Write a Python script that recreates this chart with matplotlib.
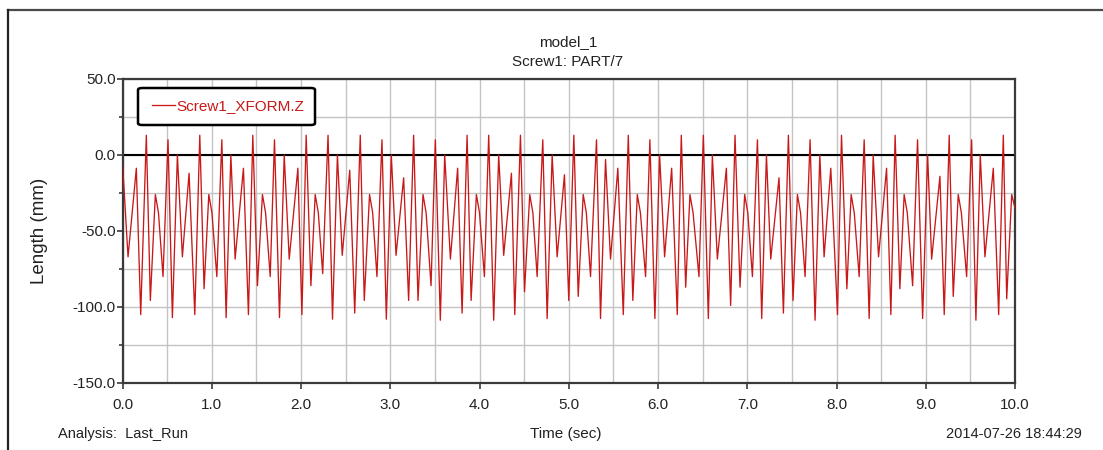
import matplotlib
matplotlib.use("Agg")
import matplotlib.pyplot as plt
from matplotlib.ticker import MultipleLocator
from matplotlib.lines import Line2D
from matplotlib.patches import FancyBboxPatch

plt.rcParams['font.family'] = ['Liberation Sans', 'DejaVu Sans']

# turning points of the curve (time in s, length in mm)
time_s = [
    0.000, 0.062, 0.155, 0.204, 0.267, 0.312, 0.368, 0.403, 0.454, 0.510,
    0.559, 0.615, 0.671, 0.746, 0.810, 0.866, 0.914, 0.967, 1.002, 1.057,
    1.113, 1.161, 1.214, 1.262, 1.355, 1.411, 1.460, 1.512, 1.568, 1.603,
    1.655, 1.703, 1.759, 1.812, 1.868, 1.965, 2.010, 2.058, 2.111, 2.159,
    2.194, 2.243, 2.303, 2.353, 2.408, 2.462, 2.546, 2.602, 2.664, 2.709,
    2.768, 2.803, 2.851, 2.907, 2.956, 3.012, 3.065, 3.150, 3.206, 3.262,
    3.311, 3.367, 3.402, 3.457, 3.505, 3.561, 3.610, 3.674, 3.755, 3.805,
    3.861, 3.906, 3.965, 4.000, 4.055, 4.103, 4.159, 4.215, 4.271, 4.358,
    4.395, 4.459, 4.504, 4.563, 4.598, 4.646, 4.709, 4.758, 4.814, 4.870,
    4.952, 5.000, 5.057, 5.106, 5.162, 5.197, 5.244, 5.311, 5.356, 5.412,
    5.468, 5.550, 5.611, 5.667, 5.718, 5.768, 5.803, 5.861, 5.909, 5.965,
    6.018, 6.074, 6.153, 6.216, 6.261, 6.310, 6.358, 6.393, 6.459, 6.508,
    6.564, 6.609, 6.665, 6.766, 6.814, 6.863, 6.919, 6.971, 7.006, 7.058,
    7.114, 7.162, 7.215, 7.263, 7.356, 7.405, 7.461, 7.513, 7.562, 7.597,
    7.648, 7.704, 7.760, 7.813, 7.861, 7.936, 8.011, 8.056, 8.116, 8.164,
    8.199, 8.254, 8.310, 8.366, 8.411, 8.471, 8.561, 8.609, 8.657, 8.710,
    8.758, 8.793, 8.853, 8.908, 8.965, 9.021, 9.066, 9.159, 9.207, 9.263,
    9.308, 9.364, 9.399, 9.458, 9.514, 9.562, 9.611, 9.663, 9.757, 9.817,
    9.869, 9.907, 9.963, 10.000,
]
length_mm = [
    -5, -67, -8.7, -105, 13, -95.7, -26, -38, -80, 10,
    -107, 0, -67, -12, -105, 13, -88, -26, -38, -80,
    10, -107, 0, -68.5, -8.7, -105, 13, -86, -26, -38,
    -80, 10, -107, 0, -68.5, -8.7, -105, 13, -86, -26,
    -38, -78, 13, -108, 0, -66, -10, -104, 13, -95.7,
    -26, -38, -80, 10, -108, 0, -66, -15, -95.7, 13,
    -95.7, -26, -38, -86, 10, -108.7, 0, -68.5, -8.7, -104,
    13, -95.7, -26, -38, -80, 13, -108.7, 0, -66, -12,
    -105, 13, -90, -26, -38, -80, 10, -107.6, 0, -67,
    -13, -95.7, 13, -93, -26, -38, -80, 10, -107.6, -3,
    -68.5, -8.7, -105, 13, -95.7, -26, -38, -80, 10, -107.6,
    0, -67, -8.7, -105, 13, -87, -26, -38, -80, 13,
    -107.6, 0, -68.5, -8.7, -99, 13, -87, -26, -38, -80,
    10, -107.6, 0, -68.5, -15, -104, 13, -95.7, -26, -38,
    -80, 10, -108.7, 0, -67, -8.7, -105, 13, -88, -26,
    -38, -80, 10, -107.6, 0, -67, -8.7, -105, 13, -88,
    -26, -38, -86, 10, -107.6, 0, -68.5, -14, -105, 13,
    -93, -26, -38, -80, 10, -108.7, 0, -67, -8.7, -105,
    13, -94.6, -26, -35,
]

series_label = "Screw1_XFORM.Z"
title_lines = ["model_1", "Screw1: PART/7"]
x_ticks = [0.0, 1.0, 2.0, 3.0, 4.0, 5.0, 6.0, 7.0, 8.0, 9.0, 10.0]
y_ticks = [50.0, 0.0, -50.0, -100.0, -150.0]

W, H = 1103, 450
fig = plt.figure(figsize=(W / 100, H / 100), dpi=100)
fig.patch.set_facecolor('white')

def fx(px):
    return px / W

def fy(py):
    return 1 - py / H

# axes box in pixel coordinates of the reference
left, right, top, bottom = 122.5, 1015, 79, 383
ax = fig.add_axes([fx(left), fy(bottom), (right - left) / W, (bottom - top) / H])

red = '#c81818'
ax.plot(time_s, length_mm, color=red, lw=0.95, label=series_label, zorder=3)

ax.set_xlim(0, 10)
ax.set_ylim(-150, 50)
ax.set_xticks(x_ticks)
ax.set_xticklabels(["%.1f" % v for v in x_ticks])
ax.set_yticks(y_ticks)
ax.set_yticklabels(["%.1f" % v for v in y_ticks])
ax.xaxis.set_minor_locator(MultipleLocator(0.5))
ax.yaxis.set_minor_locator(MultipleLocator(25))

ax.grid(True, which='both', color='#c4c4c4', lw=1.0, zorder=0)
ax.axhline(0, color='black', lw=1.5, zorder=2)

for s in ax.spines.values():
    s.set_color('#3a3a3a')
    s.set_linewidth(1.6)

fs = 11
ax.tick_params(axis='both', which='major', length=4, width=1.2, color='#3a3a3a',
               labelsize=fs, labelcolor='#222222', pad=1)
ax.tick_params(axis='x', which='major', pad=7)
ax.tick_params(axis='both', which='minor', length=3, width=1.2, color='#3a3a3a')
ax.tick_params(axis='x', which='minor', length=0)

# legend: box drawn by hand, entries placed inside it
box = FancyBboxPatch((fx(138), fy(125)), (315 - 138) / W, (125 - 88) / H,
                     boxstyle='round,pad=0,rounding_size=0.004', transform=fig.transFigure,
                     facecolor='white', edgecolor='black', lw=1.8, zorder=5)
fig.add_artist(box)
leg = fig.legend(loc='center left', bbox_to_anchor=(fx(152), fy(106.5)), borderaxespad=0,
                 borderpad=0, frameon=False, fontsize=fs, handlelength=1.5,
                 handletextpad=0.12, labelcolor=red)
leg.set_zorder(6)

# titles and labels
fig.text(fx(568), fy(42), title_lines[0], ha='center', va='center', fontsize=fs, color='#222222')
fig.text(fx(568), fy(62), title_lines[1], ha='center', va='center', fontsize=fs, color='#222222')
fig.text(fx(40), fy(231), "Length (mm)", rotation=90, ha='center', va='center',
         fontsize=13.5, color='#222222')
fig.text(fx(566), fy(434), "Time (sec)", ha='center', va='center', fontsize=fs, color='#222222')
fig.text(fx(58), fy(434), "Analysis:  Last_Run", ha='left', va='center', fontsize=10.5,
         color='#222222')
fig.text(fx(1082), fy(434), "2014-07-26 18:44:29", ha='right', va='center', fontsize=10.5,
         color='#222222')

# outer frame (top and left edges visible)
fig.add_artist(Line2D([fx(8), 1.0], [fy(10), fy(10)], transform=fig.transFigure,
                      color='#4a4a4a', lw=1.6))
fig.add_artist(Line2D([fx(8), fx(8)], [0.0, fy(10)], transform=fig.transFigure,
                      color='#222222', lw=1.6))

fig.savefig('out.png', dpi=100)
